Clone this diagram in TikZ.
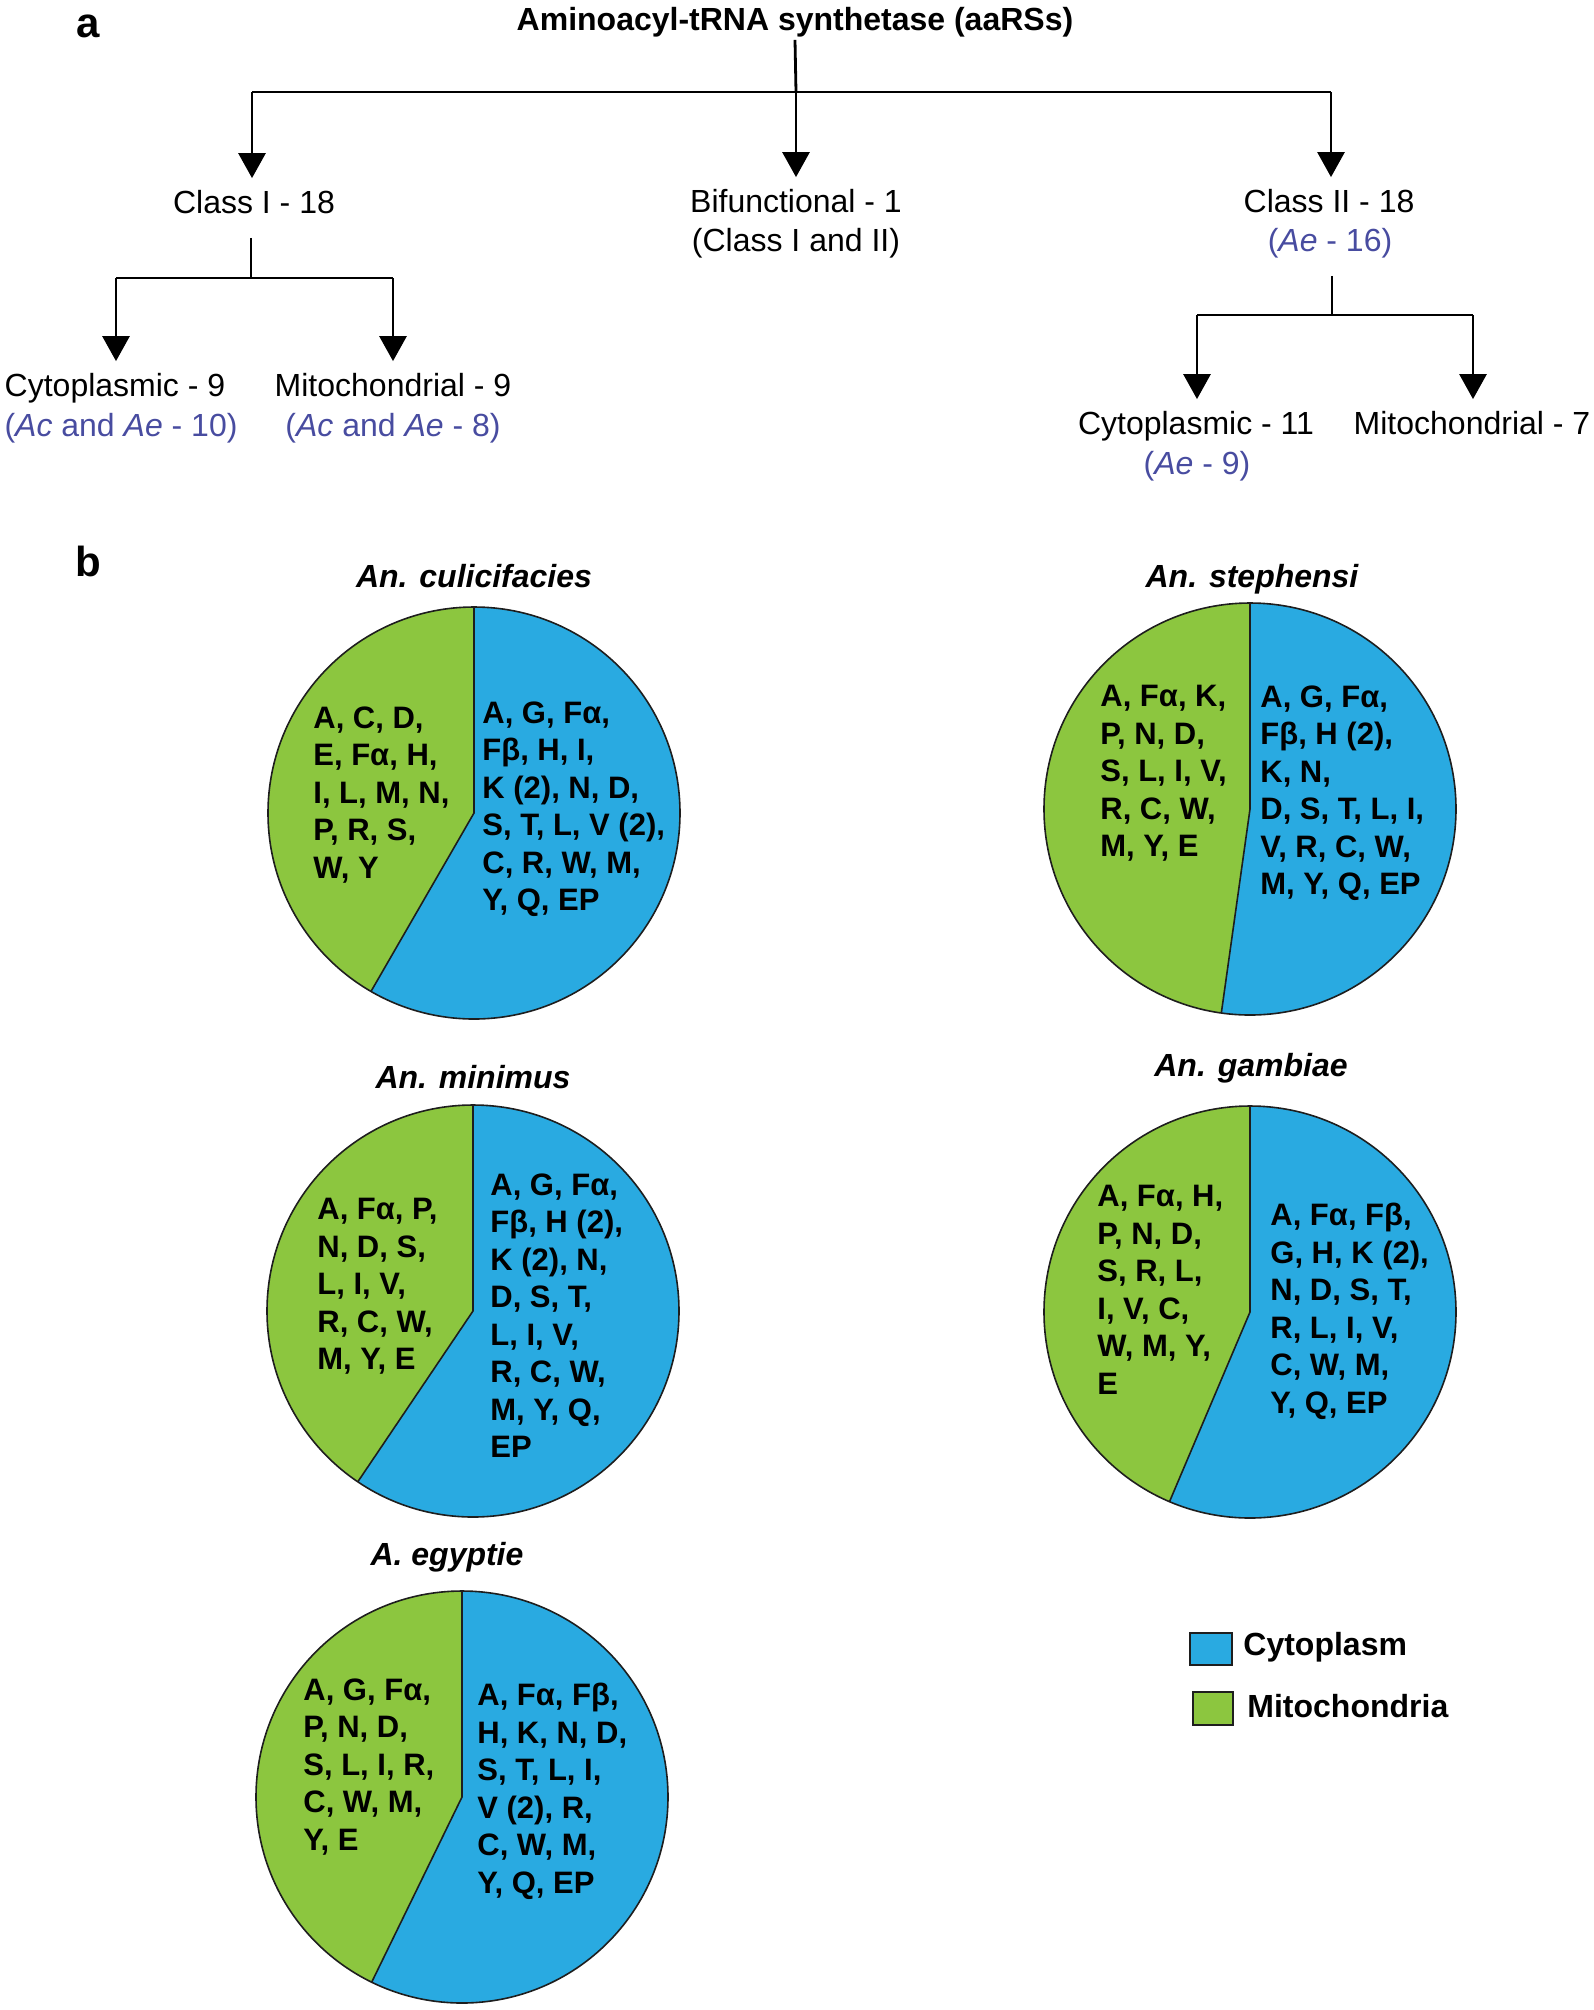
\documentclass[tikz,border=0pt]{standalone}
\usepackage{fontspec}
\setmainfont{Liberation Sans}
\usetikzlibrary{arrows.meta,calc}
\definecolor{cyto}{RGB}{41,170,225}
\definecolor{mito}{RGB}{140,198,63}
\definecolor{aeblue}{RGB}{72,76,160}
\definecolor{edgec}{RGB}{30,30,30}
\tikzset{
  tl/.style={font=\fontsize{16}{19}\selectfont, inner xsep=0pt, inner ysep=6pt, text height=11.5pt, text depth=0pt},
  tlb/.style={tl, text=aeblue},
  conn/.style={line width=1.4pt, draw=black},
  arr/.style={conn, -{Triangle[length=12.5pt,width=13.5pt]}},
  ptitle/.style={font=\fontsize{16}{19}\selectfont\bfseries\itshape, inner sep=0pt, anchor=base},
  ptext/.style={font=\fontsize{15.5}{18.75}\selectfont\bfseries, align=left, anchor=north west, inner sep=0pt},
  panel/.style={font=\fontsize{21}{24}\selectfont\bfseries, inner sep=0pt, anchor=base},
  legtext/.style={font=\fontsize{16}{19}\selectfont\bfseries, anchor=west, inner sep=0pt},
  piedge/.style={draw=edgec, line width=0.8pt},
  legbox/.style={draw=edgec, line width=1pt},
}
\newcommand\mypie[2]{%
  \fill[cyto] (#1) circle[radius=103pt];
  \fill[mito] (#1) -- ++(90:103pt) arc[start angle=90, end angle=#2, radius=103pt] -- cycle;
  \draw[piedge] (#1) circle[radius=103pt];
  \draw[piedge] ($(#1)+(90:103pt)$) -- (#1) -- ++(#2:103pt);
}
\begin{document}
\begin{tikzpicture}[x=0.5pt,y=-0.5pt]
\useasboundingbox (0,0) rectangle (1594,2010);

% ---------- panel a ----------
\node[panel] (pa) at (88,37) {a};
\node[tl, font=\fontsize{16}{19}\selectfont\bfseries, inner ysep=4.5pt] (root) at (795,19) {Aminoacyl-tRNA synthetase (aaRSs)};
\coordinate (j0) at (796,92);
\coordinate (jL) at (252,92);
\coordinate (jR) at (1331,92);

\node[tl] (c1) at (254,202) {Class I - 18};
\node[tl] (bif) at (796,201) {Bifunctional - 1};
\node[tl] (bif2) at (796,240) {(Class I and II)};
\node[tl] (c2) at (1329,201) {Class II - 18};
\node[tlb] (c2b) at (1330,240) {(\textit{Ae} - 16)};

\draw[conn] (root.south) -- (j0);
\draw[conn] (jL) -- (jR);
\draw[arr] (jL) -- (jL |- c1.north);
\draw[arr] (j0) -- (j0 |- bif.north);
\draw[arr] (jR) -- (jR |- c2.north);

% class I subtree
\coordinate (j1) at (251,278);
\coordinate (j1L) at (116,278);
\coordinate (j1R) at (393,278);
\node[tl] (cy1) at (115,385) {Cytoplasmic - 9};
\node[tlb] (cy1b) at (121,425) {(\textit{Ac} and \textit{Ae} - 10)};
\node[tl] (mi1) at (393,385) {Mitochondrial - 9};
\node[tlb] (mi1b) at (393,425) {(\textit{Ac} and \textit{Ae} - 8)};
\draw[conn, shorten <=6pt] (j1 |- c1.south) -- (j1);
\draw[conn] (j1L) -- (j1R);
\draw[arr] (j1L) -- (j1L |- cy1.north);
\draw[arr] (j1R) -- (j1R |- mi1.north);

% class II subtree
\coordinate (j2) at (1332,315);
\coordinate (j2L) at (1197,315);
\coordinate (j2R) at (1473,315);
\node[tl] (cy2) at (1196,423) {Cytoplasmic - 11};
\node[tlb] (cy2b) at (1197,463) {(\textit{Ae} - 9)};
\node[tl] (mi2) at (1472,423) {Mitochondrial - 7};
\draw[conn, shorten <=6pt] (j2 |- c2b.south) -- (j2);
\draw[conn] (j2L) -- (j2R);
\draw[arr] (j2L) -- (j2L |- cy2.north);
\draw[arr] (j2R) -- (j2R |- mi2.north);

% ---------- panel b ----------
\node[panel] (pb) at (88,576) {b};

% pie 1
\coordinate (p1) at (474,813);
\mypie{p1}{240}
\node[ptitle] (t1) at (474,587) {An. culicifacies};
\node[ptext] (g1) at (313,706) {A, C, D,\\E, Fα, H,\\I, L, M, N,\\P, R, S,\\W, Y};
\node[ptext] (b1) at (482,701) {A, G, Fα,\\Fβ, H, I,\\K (2), N, D,\\S, T, L, V (2),\\C, R, W, M,\\Y, Q, EP};

% pie 2
\coordinate (p2) at (1250,809);
\mypie{p2}{262}
\node[ptitle] (t2) at (1252,587) {An. stephensi};
\node[ptext] (g2) at (1100,685) {A, Fα, K,\\P, N, D,\\S, L, I, V,\\R, C, W,\\M, Y, E};
\node[ptext] (b2) at (1260,685) {A, G, Fα,\\Fβ, H (2),\\K, N,\\D, S, T, L, I,\\V, R, C, W,\\M, Y, Q, EP};

% pie 3
\coordinate (p3) at (473,1311);
\mypie{p3}{236}
\node[ptitle] (t3) at (473,1088) {An. minimus};
\node[ptext] (g3) at (317,1198) {A, Fα, P,\\N, D, S,\\L, I, V,\\R, C, W,\\M, Y, E};
\node[ptext] (b3) at (490,1173) {A, G, Fα,\\Fβ, H (2),\\K (2), N,\\D, S, T,\\L, I, V,\\R, C, W,\\M, Y, Q,\\EP};

% pie 4
\coordinate (p4) at (1250,1312);
\mypie{p4}{247}
\node[ptitle] (t4) at (1251,1076) {An. gambiae};
\node[ptext] (g4) at (1097,1185) {A, Fα, H,\\P, N, D,\\S, R, L,\\I, V, C,\\W, M, Y,\\E};
\node[ptext] (b4) at (1270,1203) {A, Fα, Fβ,\\G, H, K (2),\\N, D, S, T,\\R, L, I, V,\\C, W, M,\\Y, Q, EP};

% pie 5
\coordinate (p5) at (462,1797);
\mypie{p5}{244}
\node[ptitle] (t5) at (447,1565) {A. egyptie};
\node[ptext] (g5) at (303,1678) {A, G, Fα,\\P, N, D,\\S, L, I, R,\\C, W, M,\\Y, E};
\node[ptext] (b5) at (477,1683) {A, Fα, Fβ,\\H, K, N, D,\\S, T, L, I,\\V (2), R,\\C, W, M,\\Y, Q, EP};

% legend
\draw[legbox, fill=cyto] (1190,1633) rectangle (1232,1665);
\draw[legbox, fill=mito] (1193,1692) rectangle (1233,1725);
\node[legtext] (lc) at (1243,1647) {Cytoplasm};
\node[legtext] (lm) at (1247,1706) {Mitochondria};
\end{tikzpicture}
\end{document}
